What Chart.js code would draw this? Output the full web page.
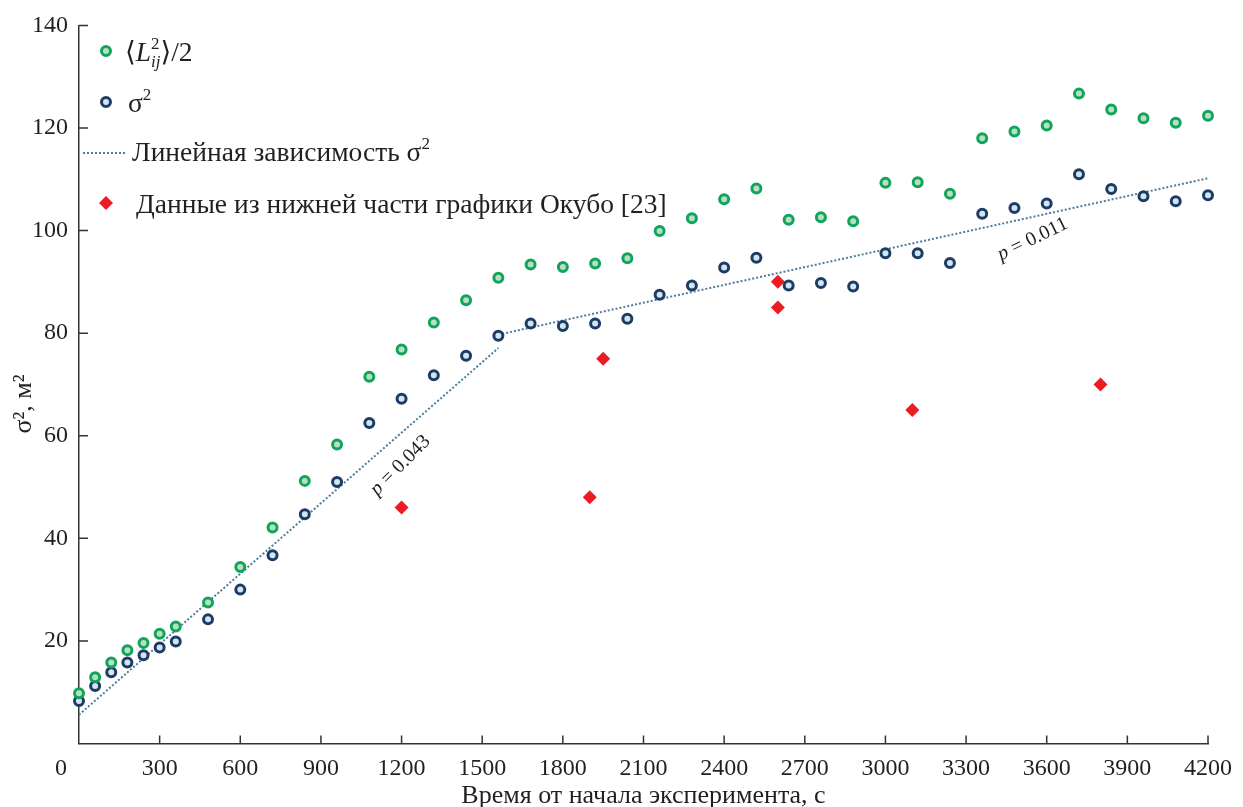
<!DOCTYPE html>
<html>
<head>
<meta charset="utf-8">
<title>σ² от времени</title>
<script src="https://cdn.jsdelivr.net/npm/chart.js@4.4.1/dist/chart.umd.min.js"></script>
<style>
  html, body { margin: 0; padding: 0; background: #fff; }
  #wrap { width: 1243px; height: 807px; position: relative; }
</style>
</head>
<body>
<div id="wrap"><canvas id="chart"></canvas></div>
<script>
// Time since start of experiment, s
const times = [0, 60, 120, 180, 240, 300, 360, 480, 600, 720, 840, 960, 1080, 1200,
  1320, 1440, 1560, 1680, 1800, 1920, 2040, 2160, 2280, 2400, 2520, 2640, 2760, 2880,
  3000, 3120, 3240, 3360, 3480, 3600, 3720, 3840, 3960, 4080, 4200];

// <L_ij^2>/2 (green circles)
const halfL2 = [9.8, 12.9, 15.8, 18.2, 19.6, 21.4, 22.8, 27.5, 34.4, 42.1, 51.2, 58.3,
  71.5, 76.8, 82.1, 86.4, 90.8, 93.4, 92.9, 93.6, 94.6, 99.9, 102.4, 106.1, 108.2,
  102.1, 102.6, 101.8, 109.3, 109.4, 107.2, 118.0, 119.3, 120.5, 126.7, 123.6, 121.9,
  121.0, 122.4];

// sigma^2 (dark blue circles)
const sigma2 = [8.3, 11.2, 13.9, 15.8, 17.2, 18.7, 19.9, 24.2, 30.0, 36.7, 44.7, 51.0,
  62.5, 67.2, 71.8, 75.6, 79.5, 81.9, 81.4, 81.9, 82.8, 87.5, 89.3, 92.8, 94.7, 89.3,
  89.8, 89.1, 95.6, 95.6, 93.7, 103.3, 104.4, 105.3, 111.0, 108.1, 106.7, 105.7, 106.9];

// Okubo [23] lower part data (red diamonds)
const okuboT = [1200, 1900, 1950, 2600, 2600, 3100, 3800];
const okuboV = [46, 48, 75, 90, 85, 65, 70];

// Linear fit of sigma^2, two pieces
const fit1T = [0, 1560];
const fit1V = [5.6, 77.1];
const fit2T = [1560, 4200];
const fit2V = [79.7, 110.2];

// Slope labels, placed in data units
const slopeLabels = ['p = 0.043', 'p = 0.011'];
const slopeLabelT = [1196, 3548];
const slopeLabelV = [54.2, 98.3];
const slopeLabelAngle = [-45, -26];

const xTicks = { min: 0, max: 4200, step: 300 };
const yTicks = { min: 0, max: 140, step: 20 };

const SERIF = '"Liberation Serif", "Times New Roman", "DejaVu Serif", serif';
const GREEN = '#11a45a';
const BLUE = '#1e3c63';
const RED = '#ec1c24';
const FIT = '#4d7c9c';
const INK = '#231f20';
const LEG = 27.5; // legend font size
const SUP = 17;   // legend sub/superscript size

function toXY(xs, ys) {
  return xs.map((x, i) => ({ x: x, y: ys[i] }));
}

// draw a run of text pieces (for sub/superscripts)
function drawRuns(ctx, x, y, runs) {
  runs.forEach(r => {
    ctx.font = (r.italic ? 'italic ' : '') + r.size + 'px ' + SERIF;
    ctx.fillText(r.t, x, y + (r.dy || 0));
    if (!r.stay) x += ctx.measureText(r.t).width;
  });
}

// ticks pointing into the plot, as in the original
const innerTicks = {
  id: 'innerTicks',
  afterDraw(chart) {
    const ctx = chart.ctx;
    const area = chart.chartArea;
    const xs = chart.scales.x, ys = chart.scales.y;
    ctx.save();
    ctx.strokeStyle = '#333';
    ctx.lineWidth = 1.5;
    ctx.beginPath();
    xs.ticks.forEach(t => {
      if (t.value === 0) return;
      const px = xs.getPixelForValue(t.value);
      ctx.moveTo(px, area.bottom);
      ctx.lineTo(px, area.bottom - 8);
    });
    ys.ticks.forEach(t => {
      if (t.value === 0) return;
      const py = ys.getPixelForValue(t.value);
      ctx.moveTo(area.left, py);
      ctx.lineTo(area.left + 9, py);
    });
    ctx.stroke();
    ctx.restore();
  }
};

// slope annotations
const slopeText = {
  id: 'slopeText',
  afterDatasetsDraw(chart) {
    const ctx = chart.ctx;
    const xs = chart.scales.x, ys = chart.scales.y;
    ctx.save();
    ctx.fillStyle = INK;
    ctx.textBaseline = 'middle';
    slopeLabels.forEach((label, i) => {
      const px = xs.getPixelForValue(slopeLabelT[i]);
      const py = ys.getPixelForValue(slopeLabelV[i]);
      ctx.save();
      ctx.translate(px, py);
      ctx.rotate(slopeLabelAngle[i] * Math.PI / 180);
      const rest = label.slice(1);
      ctx.font = 'italic 20px ' + SERIF;
      const wp = ctx.measureText('p').width;
      ctx.font = '20px ' + SERIF;
      const wr = ctx.measureText(rest).width;
      const x0 = -(wp + wr) / 2;
      ctx.font = 'italic 20px ' + SERIF;
      ctx.fillText('p', x0, 0);
      ctx.font = '20px ' + SERIF;
      ctx.fillText(rest, x0 + wp, 0);
      ctx.restore();
    });
    ctx.restore();
  }
};

// legend in the upper left corner, with proper sub/superscripts
const richLegend = {
  id: 'richLegend',
  afterDraw(chart) {
    const ctx = chart.ctx;
    ctx.save();
    ctx.fillStyle = INK;
    ctx.textBaseline = 'alphabetic';

    // green circle
    ctx.beginPath();
    ctx.arc(106, 51, 4.5, 0, Math.PI * 2);
    ctx.fillStyle = '#b7dfc4';
    ctx.fill();
    ctx.lineWidth = 3;
    ctx.strokeStyle = GREEN;
    ctx.stroke();
    ctx.fillStyle = INK;
    drawRuns(ctx, 125, 61, [
      { t: '\u27E8', size: LEG },
      { t: 'L', size: LEG, italic: true },
      { t: '2', size: SUP, dy: -12, stay: true },
      { t: 'ij', size: SUP, italic: true, dy: 6 },
      { t: '\u27E9', size: LEG },
      { t: '/2', size: LEG }
    ]);

    // blue circle
    ctx.beginPath();
    ctx.arc(106, 102, 4.5, 0, Math.PI * 2);
    ctx.fillStyle = '#d0e6f4';
    ctx.fill();
    ctx.strokeStyle = BLUE;
    ctx.stroke();
    ctx.fillStyle = INK;
    drawRuns(ctx, 128, 112, [
      { t: 'σ', size: LEG },
      { t: '2', size: SUP, dy: -12 }
    ]);

    // dotted line
    ctx.beginPath();
    ctx.setLineDash([2, 2]);
    ctx.lineWidth = 2;
    ctx.strokeStyle = FIT;
    ctx.moveTo(83, 153);
    ctx.lineTo(125, 153);
    ctx.stroke();
    ctx.setLineDash([]);
    drawRuns(ctx, 132, 161, [
      { t: 'Линейная зависимость σ', size: LEG },
      { t: '2', size: SUP, dy: -12 }
    ]);

    // red diamond
    ctx.beginPath();
    ctx.moveTo(106, 196);
    ctx.lineTo(113, 203);
    ctx.lineTo(106, 210);
    ctx.lineTo(99, 203);
    ctx.closePath();
    ctx.fillStyle = RED;
    ctx.fill();
    ctx.fillStyle = INK;
    drawRuns(ctx, 136, 213, [
      { t: 'Данные из нижней части графики Окубо [23]', size: LEG }
    ]);

    ctx.restore();
  }
};

const ctx = document.getElementById('chart').getContext('2d');
new Chart(ctx, {
  type: 'scatter',
  data: {
    datasets: [
      {
        label: 'Данные из нижней части графики Окубо [23]',
        data: toXY(okuboT, okuboV),
        pointStyle: 'rectRot',
        pointRadius: 7,
        borderWidth: 0,
        backgroundColor: RED,
        borderColor: RED,
        clip: false,
        order: 0
      },
      {
        label: '<L_ij^2>/2',
        data: toXY(times, halfL2),
        pointRadius: 4.5,
        borderWidth: 3,
        borderColor: GREEN,
        backgroundColor: '#b7dfc4',
        clip: false,
        order: 1
      },
      {
        label: 'σ²',
        data: toXY(times, sigma2),
        pointRadius: 4.5,
        borderWidth: 3,
        borderColor: BLUE,
        backgroundColor: '#d0e6f4',
        clip: false,
        order: 2
      },
      {
        label: 'Линейная зависимость σ²',
        data: toXY(fit1T, fit1V),
        showLine: true,
        pointRadius: 0,
        borderColor: FIT,
        borderWidth: 2,
        borderDash: [2, 2],
        clip: false,
        order: 3
      },
      {
        label: 'Линейная зависимость σ² (2)',
        data: toXY(fit2T, fit2V),
        showLine: true,
        pointRadius: 0,
        borderColor: FIT,
        borderWidth: 2,
        borderDash: [2, 2],
        clip: false,
        order: 3
      }
    ]
  },
  options: {
    responsive: true,
    maintainAspectRatio: false,
    animation: false,
    layout: { padding: { top: 24, right: 30, left: 0, bottom: 0 } },
    plugins: {
      legend: { display: false },
      tooltip: { enabled: false }
    },
    scales: {
      x: {
        type: 'linear',
        min: xTicks.min,
        max: xTicks.max,
        grid: { display: false, drawTicks: false },
        border: { display: true, color: '#333', width: 1.5 },
        ticks: {
          stepSize: xTicks.step,
          padding: 11,
          color: INK,
          maxRotation: 0,
          autoSkip: false,
          font: { family: SERIF, size: 24 },
          // the origin label sits left of the axis
          callback: v => v === 0 ? '0\u2002\u2002\u2002' : String(v)
        },
        title: {
          display: true,
          text: 'Время от начала эксперимента, с',
          color: INK,
          font: { family: SERIF, size: 26 },
          padding: { top: 0, bottom: -5 }
        },
        afterFit(scale) { scale.height = 63.5; }
      },
      y: {
        min: yTicks.min,
        max: yTicks.max,
        grid: { display: false, drawTicks: false },
        border: { display: true, color: '#333', width: 1.5 },
        ticks: {
          stepSize: yTicks.step,
          padding: 11,
          color: INK,
          font: { family: SERIF, size: 24 },
          callback: v => v === 0 ? '' : String(v)
        },
        title: {
          display: true,
          // trailing spaces push the title a little below the centre, as in the original
          text: 'σ², м²\u2002\u2002\u2002',
          color: INK,
          font: { family: SERIF, size: 26 },
          padding: { top: 9, bottom: 0 }
        },
        afterFit(scale) { scale.width = 79; }
      }
    }
  },
  plugins: [innerTicks, slopeText, richLegend]
});
</script>
</body>
</html>
